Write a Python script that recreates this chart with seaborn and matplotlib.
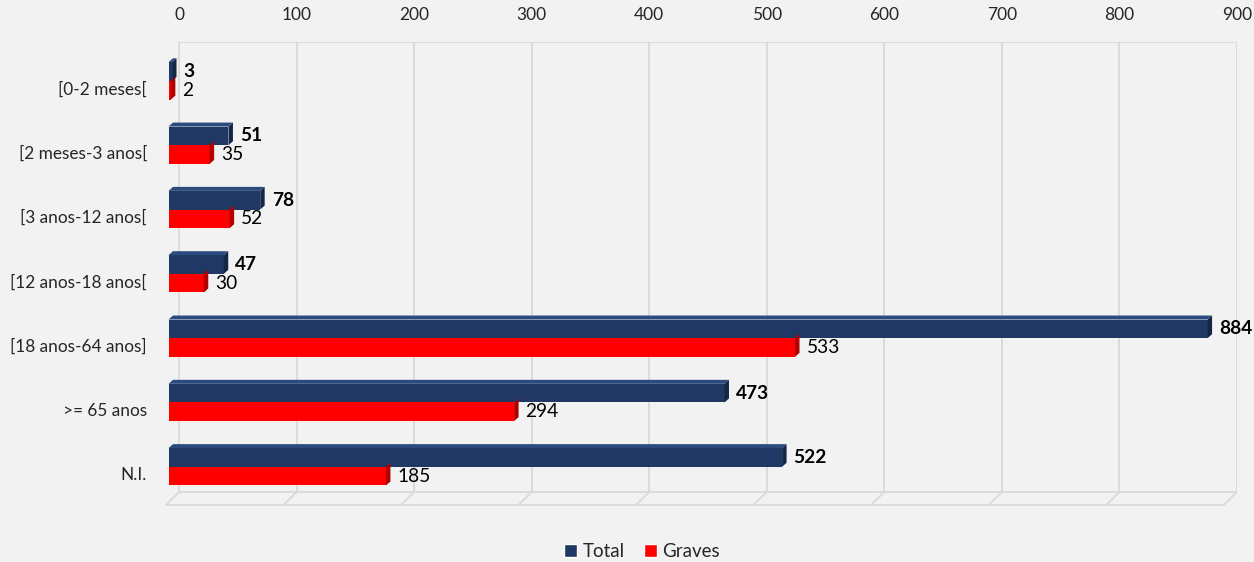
import pandas as pd
import numpy as np
import matplotlib.pyplot as plt
import seaborn as sns
from matplotlib.patches import Patch

# data
categorias = ["[0-2 meses[", "[2 meses-3 anos[", "[3 anos-12 anos[", "[12 anos-18 anos[",
              "[18 anos-64 anos]", ">= 65 anos", "N.I."]
total = [3, 51, 78, 47, 884, 473, 522]
graves = [2, 35, 52, 30, 533, 294, 185]
series = ["Total", "Graves"]
ticks = [0, 100, 200, 300, 400, 500, 600, 700, 800, 900]

df = pd.DataFrame({
    "Faixa": categorias * 2,
    "Casos": total + graves,
    "Serie": ["Total"] * len(total) + ["Graves"] * len(graves),
})

cores = {"Total": "#1f3864", "Graves": "#ff0000"}
lados = {"Total": "#142545", "Graves": "#b00000"}
topo = {"Total": "#2b4a7e", "Graves": "#ff3030"}
bg = "#f2f2f2"
grid_c = "#d9d9d9"

sns.set_style("white")
plt.rcParams["font.family"] = ["Lato", "DejaVu Sans"]

fig = plt.figure(figsize=(12.54, 5.62), dpi=100, facecolor=bg)
# x from -12 to 900 so the 3D depth offset stays visible
ax = fig.add_axes([165 / 1254, 0.0996, 1072 / 1254, 0.8256])
ax.set_facecolor(bg)

y_top, y_floor, y_front = -0.714, 6.28, 6.48
depth = 11  # floor depth in data units (x)

# back wall grid + floor
for t in ticks:
    ax.plot([t, t], [y_top, y_floor], color=grid_c, lw=1.3, zorder=0)
    ax.plot([t, t - depth], [y_floor, y_front], color=grid_c, lw=1.3, zorder=0)
ax.plot([0, 900], [y_top, y_top], color=grid_c, lw=1.3, zorder=0)
ax.plot([0, 900], [y_floor, y_floor], color=grid_c, lw=1.3, zorder=0)
ax.plot([-depth, 900 - depth], [y_front, y_front], color=grid_c, lw=1.3, zorder=0)

sns.barplot(data=df, y="Faixa", x="Casos", hue="Serie", hue_order=series,
            palette=cores, orient="h", width=0.58, dodge=True, ax=ax,
            saturation=1, legend=False, zorder=2)

shift_x, lift = 9, 0.11
dx, dy = 3.8, 0.062
for serie, cont in zip(series, ax.containers):
    for rect, val in zip(cont.patches, cont.datavalues):
        rect.set_x(rect.get_x() - shift_x)
        rect.set_y(rect.get_y() - lift)
        rect.set_linewidth(0)
        x0 = rect.get_x()
        x1 = x0 + rect.get_width()
        yt = rect.get_y()
        yb = yt + rect.get_height()
        # side face
        ax.fill([x1, x1, x1 + dx, x1 + dx], [yt, yb, yb - dy, yt - dy],
                color=lados[serie], lw=0, zorder=2)
        if serie == "Total":
            ax.fill([x0, x1, x1 + dx, x0 + dx], [yt, yt, yt - dy, yt - dy],
                    color=topo[serie], lw=0, zorder=2)
        ax.text(x1 + dx + 6, (yt + yb) / 2, f"{int(val)}", va="center", ha="left",
                fontsize=13.8, color="black",
                fontweight="bold" if serie == "Total" else "normal", zorder=3,
                clip_on=False)

ax.set_xlim(-12, 900)
ax.set_ylim(6.5, y_top)
ax.set_xticks(ticks)
ax.xaxis.tick_top()
ax.tick_params(axis="x", length=0, pad=14, labelsize=12.5)
ax.tick_params(axis="y", length=0, pad=13, labelsize=12.4)
ax.set_xlabel("")
ax.set_ylabel("")
for s in ax.spines.values():
    s.set_visible(False)
ax.grid(False)

handles = [Patch(facecolor=cores[s], label=s) for s in series]
fig.legend(handles=handles, loc="center", bbox_to_anchor=(0.512, 0.018), ncol=2,
           frameon=False, fontsize=13.5, handlelength=0.7, handleheight=0.7,
           handletextpad=0.3, columnspacing=1.0)

fig.savefig("out.png", dpi=100, facecolor=bg)
